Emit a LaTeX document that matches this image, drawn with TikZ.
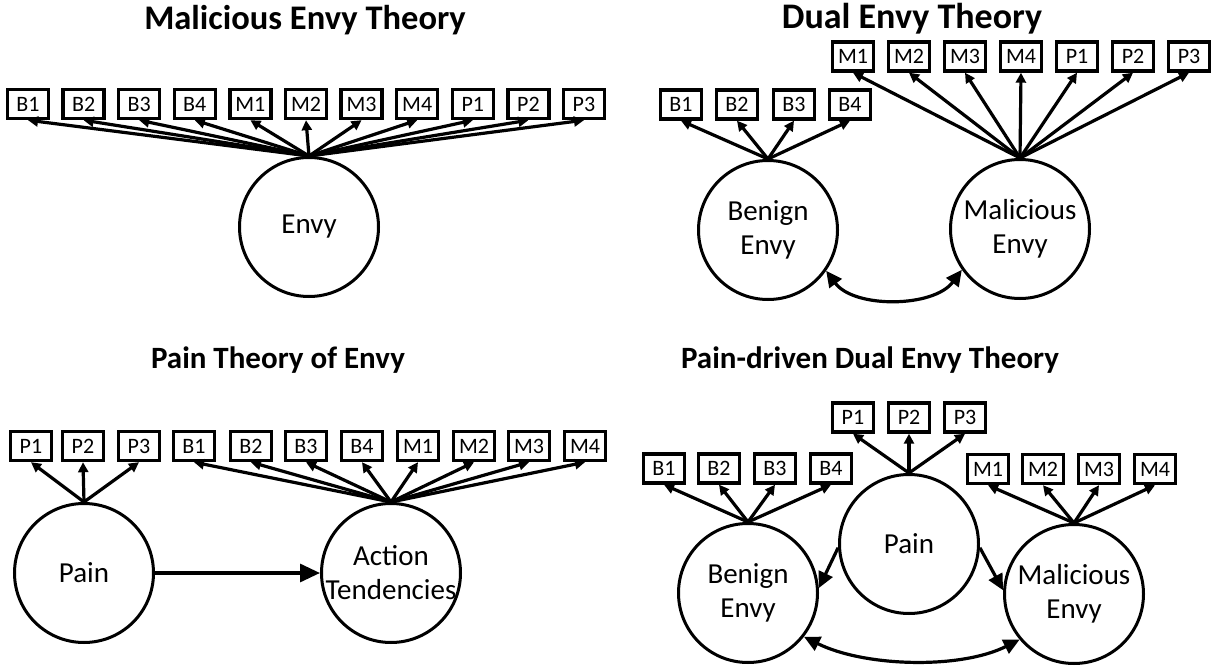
\documentclass[tikz,border=0pt]{standalone}
\usepackage{fontspec}
\setmainfont{Carlito}
\usetikzlibrary{arrows.meta}
\begin{document}
\begin{tikzpicture}[x=1pt,y=-1pt,
  ind/.style={draw,line width=3.4pt,minimum width=41pt,minimum height=29pt,inner sep=0pt,font=\fontsize{22}{24}\selectfont},
  lat/.style={draw,circle,line width=3pt,minimum size=139pt,inner sep=0pt},
  lbl/.style={align=center,font=\fontsize{29}{34}\selectfont},
  ttl/.style={anchor=base,font=\fontsize{34.5}{40}\selectfont\bfseries},
  ttlb/.style={anchor=base,font=\fontsize{31}{36}\selectfont\bfseries},
  ld/.style={line width=3.2pt,-{Triangle[length=10pt,width=10pt]}},
  big/.style={line width=3.2pt,-{Triangle[length=16pt,width=15pt]}},
  dbl/.style={line width=3.2pt,{Triangle[length=16pt,width=15pt]}-{Triangle[length=16pt,width=15pt]}},
]
\useasboundingbox (0,0) rectangle (1211,669);

% ---------- Panel 1: Malicious Envy Theory
\node[ttl] (title1) at (305,30) {Malicious Envy Theory};
\node[lat,label={[lbl]center:Envy}] (envy) at (309,227) {};
\foreach \n/\x in {B1/28,B2/83.6,B3/139.2,B4/194.8,M1/250.4,M2/306,M3/361.6,M4/417.2,P1/472.8,P2/528.4,P3/584}{
  \node[ind] (a\n) at (\x,104) {\n};
  \draw[ld] (envy.north) -- (a\n.south);
}

% ---------- Panel 2: Dual Envy Theory
\node[ttl,font=\fontsize{36}{40}\selectfont\bfseries] (title2) at (912,29) {Dual Envy Theory};
\node[lat,label={[lbl]center:Benign\\Envy}] (ben2) at (768,230) {};
\node[lat,label={[lbl]center:Malicious\\Envy}] (mal2) at (1020,229) {};
\foreach \n/\x in {B1/681,B2/737,B3/794,B4/850}{
  \node[ind] (b\n) at (\x,104.5) {\n};
  \draw[ld] (ben2.north) -- (b\n.south);
}
\foreach \n/\x in {M1/853,M2/909,M3/965,M4/1021,P1/1077,P2/1133,P3/1189}{
  \node[ind] (b\n) at (\x,56.5) {\n};
  \draw[ld] (mal2.north) -- (b\n.south);
}
\draw[dbl] (ben2.-35) .. controls +(28,38) and +(-28,38) .. (mal2.215);

% ---------- Panel 3: Pain Theory of Envy
\node[ttlb] (title3) at (278,368) {Pain Theory of Envy};
\node[lat,label={[lbl]center:Pain}] (pain3) at (84,573) {};
\node[lat,label={[lbl]center:Action\\Tendencies}] (act3) at (391,573) {};
\foreach \n/\x in {P1/31,P2/83,P3/139}{
  \node[ind] (c\n) at (\x,446) {\n};
  \draw[ld] (pain3.north) -- (c\n.south);
}
\foreach \n/\x in {B1/194,B2/251,B3/306,B4/362,M1/418,M2/474,M3/529,M4/585}{
  \node[ind] (c\n) at (\x,446) {\n};
  \draw[ld] (act3.north) -- (c\n.south);
}
\draw[line width=3.2pt,-{Triangle[length=20pt,width=18pt]}] (pain3.east) -- (act3.west);

% ---------- Panel 4: Pain-driven Dual Envy Theory
\node[ttlb] (title4) at (870,368) {Pain-driven Dual Envy Theory};
\node[lat,label={[lbl]center:Benign\\Envy}] (ben4) at (748,593) {};
\node[lat,label={[lbl]center:Pain}] (pain4) at (909,544) {};
\node[lat,label={[lbl]center:Malicious\\Envy}] (mal4) at (1074,594) {};
\foreach \n/\x in {B1/664,B2/719,B3/775,B4/831}{
  \node[ind] (d\n) at (\x,468.5) {\n};
  \draw[ld] (ben4.north) -- (d\n.south);
}
\foreach \n/\x in {P1/853,P2/909,P3/965}{
  \node[ind] (d\n) at (\x,417.5) {\n};
  \draw[ld] (pain4.north) -- (d\n.south);
}
\foreach \n/\x in {M1/988,M2/1043,M3/1099,M4/1155}{
  \node[ind] (d\n) at (\x,469) {\n};
  \draw[ld] (mal4.north) -- (d\n.south);
}
\draw[big] (pain4.183) -- (ben4.4);
\draw[big] (pain4.-3) -- (mal4.177);
\draw[dbl] (ben4.-38) .. controls +(60,30) and +(-60,30) .. (mal4.220);
\end{tikzpicture}
\end{document}
